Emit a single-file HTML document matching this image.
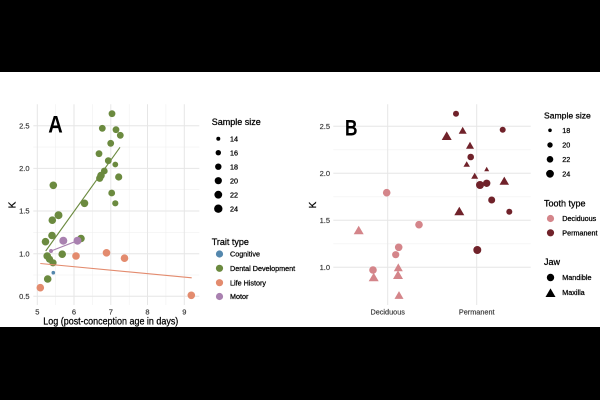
<!DOCTYPE html>
<html>
<head>
<meta charset="utf-8">
<style>
html,body{margin:0;padding:0;background:#fff;}
svg{display:block;}
text{font-family:"Liberation Sans",Arial,sans-serif;}
.lg{stroke:#000;stroke-width:0.25;}
.tk{stroke:#333;stroke-width:0.15;}
</style>
</head>
<body>
<svg width="600" height="400" viewBox="0 0 600 400" xmlns="http://www.w3.org/2000/svg">
<rect x="0" y="0" width="600" height="400" fill="#fff"/>
<rect x="0" y="0" width="600" height="72" fill="#000"/>
<rect x="0" y="327" width="600" height="73" fill="#000"/>

<!-- ===== Panel A ===== -->
<g stroke="#f0f0f0" stroke-width="0.6">
  <line x1="55.7" y1="104.3" x2="55.7" y2="305"/>
  <line x1="92.4" y1="104.3" x2="92.4" y2="305"/>
  <line x1="129.2" y1="104.3" x2="129.2" y2="305"/>
  <line x1="165.9" y1="104.3" x2="165.9" y2="305"/>
  <line x1="33.3" y1="275" x2="199.3" y2="275"/>
  <line x1="33.3" y1="232.3" x2="199.3" y2="232.3"/>
  <line x1="33.3" y1="189.7" x2="199.3" y2="189.7"/>
  <line x1="33.3" y1="147.1" x2="199.3" y2="147.1"/>
</g>
<g stroke="#e6e6e6" stroke-width="1">
  <line x1="37.3" y1="104.3" x2="37.3" y2="305"/>
  <line x1="74" y1="104.3" x2="74" y2="305"/>
  <line x1="110.8" y1="104.3" x2="110.8" y2="305"/>
  <line x1="147.5" y1="104.3" x2="147.5" y2="305"/>
  <line x1="184.3" y1="104.3" x2="184.3" y2="305"/>
  <line x1="33.3" y1="296.3" x2="199.3" y2="296.3"/>
  <line x1="33.3" y1="253.7" x2="199.3" y2="253.7"/>
  <line x1="33.3" y1="211" x2="199.3" y2="211"/>
  <line x1="33.3" y1="168.4" x2="199.3" y2="168.4"/>
  <line x1="33.3" y1="125.8" x2="199.3" y2="125.8"/>
</g>
<g fill="#333" font-size="7.5" text-anchor="end" class="tk">
  <text x="29.5" y="298.9">0.5</text>
  <text x="29.5" y="256.3">1.0</text>
  <text x="29.5" y="213.6">1.5</text>
  <text x="29.5" y="171">2.0</text>
  <text x="29.5" y="128.4">2.5</text>
</g>
<g fill="#333" font-size="7.5" text-anchor="middle" class="tk">
  <text x="37.3" y="314.4">5</text>
  <text x="74" y="314.4">6</text>
  <text x="110.8" y="314.4">7</text>
  <text x="147.5" y="314.4">8</text>
  <text x="184.3" y="314.4">9</text>
</g>
<text x="43.3" y="324.6" font-size="10.5" fill="#000" class="lg" textLength="135" lengthAdjust="spacingAndGlyphs">Log (post-conception age in days)</text>
<text transform="translate(15.3,205) rotate(-90)" font-size="10" fill="#000" class="lg" text-anchor="middle">K</text>
<text x="48.3" y="132.7" font-size="24.5" font-weight="bold" fill="#000" textLength="14.5" lengthAdjust="spacingAndGlyphs">A</text>

<!-- green points -->
<g fill="#6b8a3f">
  <circle cx="112" cy="113.7" r="3.4"/>
  <circle cx="102.3" cy="128.3" r="3.4"/>
  <circle cx="116" cy="129.7" r="3.4"/>
  <circle cx="120.3" cy="135.3" r="3.4"/>
  <circle cx="110.7" cy="143.3" r="3.4"/>
  <circle cx="99" cy="153.7" r="3.4"/>
  <circle cx="108.3" cy="160.7" r="3.4"/>
  <circle cx="115.3" cy="164.5" r="2.9"/>
  <circle cx="104.3" cy="171" r="3.4"/>
  <circle cx="101" cy="175.5" r="3.8"/>
  <circle cx="99.7" cy="178.3" r="3.6"/>
  <circle cx="118.7" cy="177" r="3.6"/>
  <circle cx="53.3" cy="185.3" r="3.8"/>
  <circle cx="111.7" cy="193" r="3.4"/>
  <circle cx="84.5" cy="203.3" r="3.8"/>
  <circle cx="115.3" cy="203.3" r="3.1"/>
  <circle cx="58.5" cy="215.2" r="4"/>
  <circle cx="52.3" cy="220.2" r="3.8"/>
  <circle cx="52" cy="235.5" r="3.8"/>
  <circle cx="45.5" cy="241.7" r="3.8"/>
  <circle cx="81" cy="238.5" r="3.8"/>
  <circle cx="47.2" cy="256" r="3.8"/>
  <circle cx="49.5" cy="259.2" r="3.6"/>
  <circle cx="62.2" cy="254.2" r="3.8"/>
  <circle cx="53" cy="262.8" r="3.6"/>
  <circle cx="47.7" cy="279" r="3.8"/>
</g>
<!-- purple -->
<g fill="#a981b0">
  <circle cx="63.3" cy="240.7" r="4"/>
  <circle cx="77.5" cy="240.7" r="4"/>
  <circle cx="51" cy="251" r="2"/>
</g>
<!-- orange -->
<g fill="#e38b6e">
  <circle cx="40.3" cy="287.7" r="3.8"/>
  <circle cx="76" cy="256" r="3.8"/>
  <circle cx="106.5" cy="252.8" r="3.8"/>
  <circle cx="124.5" cy="258.2" r="3.8"/>
  <circle cx="191.3" cy="295.3" r="3.8"/>
</g>
<!-- blue -->
<circle cx="53.3" cy="272.7" r="1.8" fill="#5487ad"/>
<!-- lines -->
<line x1="45.7" y1="251" x2="120" y2="147.3" stroke="#6b8a3f" stroke-width="1.1"/>
<line x1="51" y1="251" x2="77.5" y2="240.7" stroke="#a981b0" stroke-width="1.1"/>
<line x1="40.3" y1="263.5" x2="191.7" y2="277.8" stroke="#e38b6e" stroke-width="1.1"/>

<!-- Legend A -->
<text x="211.7" y="125.2" font-size="9" fill="#000" class="lg">Sample size</text>
<g fill="#000">
  <circle cx="218.3" cy="138.7" r="2"/>
  <circle cx="218.3" cy="152.7" r="2.7"/>
  <circle cx="218.3" cy="166.7" r="3.2"/>
  <circle cx="218.3" cy="180.7" r="3.6"/>
  <circle cx="218.3" cy="194.7" r="3.9"/>
  <circle cx="218.3" cy="208.7" r="4.2"/>
</g>
<g fill="#000" font-size="7.2" class="lg">
  <text x="230" y="141.3">14</text>
  <text x="230" y="155.3">16</text>
  <text x="230" y="169.3">18</text>
  <text x="230" y="183.3">20</text>
  <text x="230" y="197.3">22</text>
  <text x="230" y="211.3">24</text>
</g>
<text x="211.7" y="244.8" font-size="9" fill="#000" class="lg">Trait type</text>
<circle cx="219.5" cy="254" r="3.6" fill="#5487ad"/>
<circle cx="219.5" cy="268.3" r="3.6" fill="#6b8a3f"/>
<circle cx="219.5" cy="282.7" r="3.6" fill="#e38b6e"/>
<circle cx="219.5" cy="296.5" r="3.6" fill="#a981b0"/>
<g fill="#000" font-size="7.2" class="lg">
  <text x="230" y="256.6">Cognitive</text>
  <text x="230" y="270.9">Dental Development</text>
  <text x="230" y="285.3">Life History</text>
  <text x="230" y="299.1">Motor</text>
</g>

<!-- ===== Panel B ===== -->
<g stroke="#f0f0f0" stroke-width="0.6">
  <line x1="333.3" y1="243.8" x2="530.7" y2="243.8"/>
  <line x1="333.3" y1="196.8" x2="530.7" y2="196.8"/>
  <line x1="333.3" y1="149.8" x2="530.7" y2="149.8"/>
</g>
<g stroke="#e6e6e6" stroke-width="1">
  <line x1="387.7" y1="104.3" x2="387.7" y2="305"/>
  <line x1="476.7" y1="104.3" x2="476.7" y2="305"/>
  <line x1="333.3" y1="267.3" x2="530.7" y2="267.3"/>
  <line x1="333.3" y1="220.3" x2="530.7" y2="220.3"/>
  <line x1="333.3" y1="173.3" x2="530.7" y2="173.3"/>
  <line x1="333.3" y1="126.3" x2="530.7" y2="126.3"/>
</g>
<g fill="#333" font-size="7.5" text-anchor="end" class="tk">
  <text x="330" y="269.9">1.0</text>
  <text x="330" y="222.9">1.5</text>
  <text x="330" y="175.9">2.0</text>
  <text x="330" y="128.9">2.5</text>
</g>
<g fill="#333" font-size="7.3" text-anchor="middle" class="tk">
  <text x="387.7" y="314.6">Deciduous</text>
  <text x="476.7" y="314.6">Permanent</text>
</g>
<text transform="translate(316.2,205) rotate(-90)" font-size="10" fill="#000" class="lg" text-anchor="middle">K</text>
<text x="345" y="135" font-size="21" fill="#000" stroke="#000" stroke-width="0.9" textLength="12.3" lengthAdjust="spacingAndGlyphs">B</text>

<!-- pink (deciduous) -->
<g fill="#d4858a">
  <circle cx="386.7" cy="192.7" r="3.8"/>
  <circle cx="419" cy="224.7" r="3.8"/>
  <circle cx="398.7" cy="247.3" r="3.8"/>
  <circle cx="395.7" cy="254.7" r="3.6"/>
  <circle cx="373" cy="270" r="3.8"/>
  <polygon points="358.7,225.7 353.7,234.3 363.7,234.3"/>
  <polygon points="373.7,272.7 368.7,281.3 378.7,281.3"/>
  <polygon points="398.3,263.4 393.8,271.2 402.8,271.2"/>
  <polygon points="398,270.4 393,279 403,279"/>
  <polygon points="399,291.1 394.5,298.9 403.5,298.9"/>
</g>
<!-- dark (permanent) -->
<g fill="#70222a">
  <circle cx="456" cy="113.7" r="3"/>
  <circle cx="502.7" cy="129.7" r="3"/>
  <circle cx="470.7" cy="157" r="3.3"/>
  <circle cx="480" cy="185" r="4"/>
  <circle cx="486.7" cy="183.3" r="3.7"/>
  <circle cx="491.7" cy="200" r="3.5"/>
  <circle cx="509.3" cy="211.7" r="3"/>
  <circle cx="477.3" cy="250" r="4"/>
  <polygon points="446.7,131.4 441.7,140 451.7,140"/>
  <polygon points="462.7,126.8 458.7,133.8 466.7,133.8"/>
  <polygon points="470,141.8 466,148.8 474,148.8"/>
  <polygon points="466.7,161.2 463.45,166.8 469.95,166.8"/>
  <polygon points="486.7,166.8 484.2,171.2 489.2,171.2"/>
  <polygon points="474.7,172.7 471.2,178.7 478.2,178.7"/>
  <polygon points="504.3,176.6 499.55,184.8 509.05,184.8"/>
  <polygon points="459.3,206.7 454.3,215.3 464.3,215.3"/>
</g>

<!-- Legend B -->
<text x="544" y="118.5" font-size="8.6" fill="#000" class="lg">Sample size</text>
<g fill="#000">
  <circle cx="550" cy="130.3" r="1.8"/>
  <circle cx="550" cy="145" r="2.7"/>
  <circle cx="550" cy="159.3" r="3.3"/>
  <circle cx="550" cy="173.8" r="3.9"/>
</g>
<g fill="#000" font-size="7.2" class="lg">
  <text x="562.3" y="132.9">18</text>
  <text x="562.3" y="147.6">20</text>
  <text x="562.3" y="161.9">22</text>
  <text x="562.3" y="176.4">24</text>
</g>
<text x="544" y="206.5" font-size="9" fill="#000" class="lg">Tooth type</text>
<circle cx="550.5" cy="218.5" r="3.6" fill="#d4858a"/>
<circle cx="550.5" cy="232.8" r="3.6" fill="#70222a"/>
<g fill="#000" font-size="7.2" class="lg">
  <text x="562.3" y="221.1">Deciduous</text>
  <text x="562.3" y="235.4">Permanent</text>
</g>
<text x="544" y="265" font-size="9" fill="#000" class="lg">Jaw</text>
<circle cx="550.5" cy="277.5" r="3.7" fill="#000"/>
<polygon points="550.5,288.4 545.5,297 555.5,297" fill="#000"/>
<g fill="#000" font-size="7.2" class="lg">
  <text x="562.3" y="280.1">Mandible</text>
  <text x="562.3" y="295">Maxilla</text>
</g>
</svg>
</body>
</html>
